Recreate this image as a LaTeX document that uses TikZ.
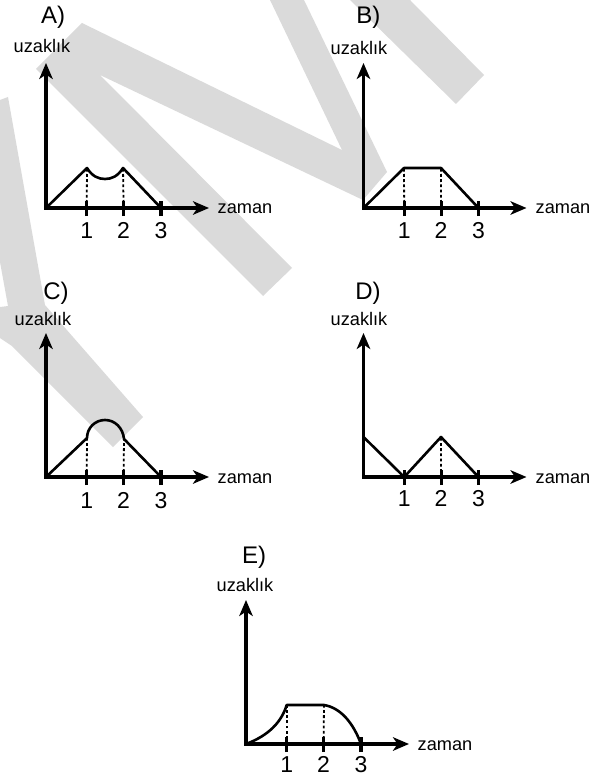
\documentclass[tikz,border=0pt]{standalone}
\usepackage{fontspec}
\setmainfont{Liberation Sans}
\usetikzlibrary{arrows.meta}
\definecolor{wm}{HTML}{DADADA}
\tikzset{
  axis/.style={line width=3.2pt,-{Stealth[length=16pt,width=13.5pt,inset=4.5pt]}},
  curve/.style={line width=2.6pt,line join=round},
  tickmark/.style={line width=3.2pt},
  drop/.style={line width=1.8pt,dash pattern=on 2.8pt off 2.4pt},
  small/.style={inner sep=0pt,anchor=base,font=\fontsize{18.2}{20}\selectfont},
  big/.style={inner sep=0pt,anchor=base,font=\fontsize{23}{25}\selectfont},
  letter/.style={inner sep=0pt,anchor=base,font=\fontsize{24}{27}\selectfont},
}
% #1 prefix, #2 origin x, #3 origin y, #4 arrow y, #5 arrow x, #6 baseline y of digits,
% #7 letter, #8 letter x, #9 letter baseline y
\newcommand{\plotframe}[9]{%
  \coordinate (#1o) at (#2,#3);
  \coordinate (#1y) at (#2,#4);
  \coordinate (#1x) at (#5,#3);
  \coordinate (#1a) at (#2+40.7,#3);
  \coordinate (#1b) at (#2+77.6,#3);
  \coordinate (#1c) at (#2+115,#3);
  \draw[axis] ([xshift=-1.6pt]#1o) -- (#1x);
  \draw[axis] (#1o) -- (#1y);
  \foreach \q in {a,b,c} {\draw[tickmark] ([yshift=-8pt]#1\q) -- ([yshift=7pt]#1\q);}
  \node[big] (#1n1) at (#2+40.7,#6) {1};
  \node[big] (#1n2) at (#2+77.6,#6) {2};
  \node[big] (#1n3) at (#2+115,#6) {3};
  \node[letter] (#1t) at (#8,#9) {#7)};
}
\begin{document}
\begin{tikzpicture}[x=1pt,y=-1pt]
\useasboundingbox (0,0) rectangle (608,778);
% watermark
\fill[wm] (82,23) -- (342,150) -- (270,0) -- (304,0) -- (387,172) -- (363,200) -- (100,75) -- (292,268) -- (263,296) -- (36,69) -- cycle;
\fill[wm] (350,0) -- (410,0) -- (484,75) -- (456,104) -- cycle;
\fill[wm] (0,100) -- (8,97) -- (45,305) -- (143,417) -- (113,447) -- (12,346) -- (0,338) -- (0,307) -- (8,306) -- (0,262) -- cycle;
% A
\plotframe{A}{46}{208}{63}{209}{238.7}{A}{53}{23.5}
\node[small] (Au) at (42,52.7) {uzaklık};
\node[small] (Az) at (245,213.3) {zaman};
\coordinate (Ap) at (87,168);
\coordinate (Aq) at (123,168);
\draw[drop] (Aa) -- (Ap);
\draw[drop] (Ab) -- (Aq);
\draw[curve] (Ao) -- (Ap) .. controls (92,176) and (98,179) .. (105,179) .. controls (112,179) and (118,176) .. (Aq) -- (Ac);
% B
\plotframe{B}{363.5}{208}{63}{526.5}{238.7}{B}{368.3}{23.5}
\node[small] (Bu) at (359,54.5) {uzaklık};
\node[small] (Bz) at (563,213.3) {zaman};
\coordinate (Bp) at (404,168);
\coordinate (Bq) at (441,168);
\draw[drop] (Ba) -- (Bp);
\draw[drop] (Bb) -- (Bq);
\draw[curve] (Bo) -- (Bp) -- (Bq) -- (Bc);
% C
\plotframe{C}{46}{477}{333}{209}{508}{C}{56}{299}
\node[small] (Cu) at (43,325) {uzaklık};
\node[small] (Cz) at (245,483.3) {zaman};
\coordinate (Cp) at (87,438);
\coordinate (Cq) at (124,439);
\draw[drop] (Ca) -- (Cp);
\draw[drop] (Cb) -- (Cq);
\draw[curve] (Co) -- (Cp) .. controls (87,428) and (95,420) .. (105,420) .. controls (115,420) and (123,428) .. (Cq) -- (Cc);
% D
\plotframe{D}{363.5}{477}{333}{526.5}{506.7}{D}{368}{299.5}
\node[small] (Du) at (359,325.5) {uzaklık};
\node[small] (Dz) at (563,483.3) {zaman};
\coordinate (Ds) at (363.5,437);
\coordinate (Dq) at (441,437);
\draw[drop] (Db) -- (Dq);
\draw[curve] (Ds) -- (Da) -- (Dq) -- (Dc);
% E
\plotframe{E}{246}{744}{600}{409}{772.8}{E}{254}{563.5}
\node[small] (Eu) at (245,591.7) {uzaklık};
\node[small] (Ez) at (445,750) {zaman};
\coordinate (Ep) at (286.7,705);
\coordinate (Eq) at (324,705);
\draw[drop] (Ea) -- (Ep);
\draw[drop] (Eb) -- (Eq);
\draw[curve] (Eo) .. controls (262,738) and (280,727) .. (Ep) -- (Eq) .. controls (342,708) and (354,725) .. (Ec);
\end{tikzpicture}
\end{document}
